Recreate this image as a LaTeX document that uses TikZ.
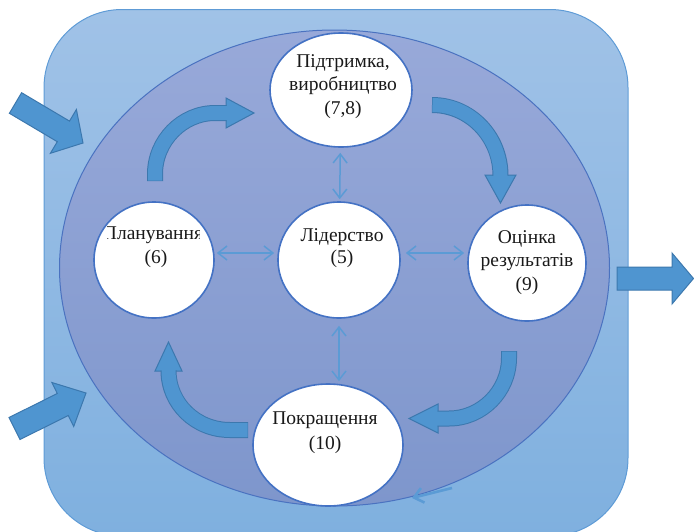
\documentclass[tikz,border=0pt]{standalone}
\usepackage{fontspec}
\setmainfont{Liberation Serif}
\usetikzlibrary{shapes.geometric,arrows.meta,calc}
\definecolor{bgtop}{HTML}{A0C2E7}
\definecolor{bgbot}{HTML}{7FB0DF}
\definecolor{bgborder}{HTML}{5E9BD6}
\definecolor{elltop}{HTML}{98A9D9}
\definecolor{ellbot}{HTML}{7E96CC}
\definecolor{ellborder}{HTML}{4A72C0}
\definecolor{nodeborder}{HTML}{4472C4}
\definecolor{blockfill}{HTML}{4F95D0}
\definecolor{blockborder}{HTML}{3C78AE}
\definecolor{thinarrow}{HTML}{5B9BD5}
\tikzset{
  lbl/.style={font=\fontsize{19.5}{23}\selectfont, text=black!90, inner sep=0pt,
    text height=0.7em, text depth=0.2em, anchor=center},
  wnode/.style={ellipse, draw=nodeborder, line width=1.6pt, fill=white, inner sep=0pt},
  dblarrow/.style={draw=thinarrow, line width=1.5pt,
    {Straight Barb[length=9pt,width=14pt]}-{Straight Barb[length=9pt,width=14pt]}},
  smallarrow/.style={draw=thinarrow, line width=2.6pt, -{Straight Barb[length=9pt,width=15pt]}},
  blockhead/.style={fill=blockfill, draw=blockborder, line width=1pt, line join=miter},
  shaftout/.style={draw=blockborder, line width=16pt},
  shaftin/.style={draw=blockfill, line width=14pt},
}
\begin{document}
\begin{tikzpicture}[x=1pt,y=1pt]
\useasboundingbox (0,0) rectangle (694,-531);
% background rounded rectangle
\shadedraw[top color=bgtop, bottom color=bgbot, draw=bgborder, line width=1pt,
  rounded corners=78pt] (44,-9.5) rectangle (628,-536);
% big ellipse
\shadedraw[top color=elltop, bottom color=ellbot, draw=ellborder, line width=1pt]
  (334.5,-268) ellipse [x radius=275, y radius=238];

% straight block arrows
\draw[blockhead] (21.6,-92.7) -- (69.5,-121.1) -- (76.4,-109.5) -- (83,-143)
  -- (50.4,-153.3) -- (57.3,-141.7) -- (9.4,-113.3) -- cycle;
\draw[blockhead] (9,-417.5) -- (57.3,-393.5) -- (51.9,-382.5) -- (86,-393)
  -- (73.7,-426.5) -- (68.3,-415.5) -- (20,-439.5) -- cycle;
\draw[blockhead] (617,-267) -- (672,-267) -- (672,-253) -- (693.5,-278.5)
  -- (672,-304) -- (672,-290) -- (617,-290) -- cycle;

% white nodes
\node[wnode, minimum width=142pt, minimum height=114pt] (top) at (341,-90) {};
\node[wnode, minimum width=120pt, minimum height=116pt] (left) at (154,-260) {};
\node[wnode, minimum width=122pt, minimum height=116pt] (center) at (339,-260) {};
\node[wnode, minimum width=118pt, minimum height=116pt] (right) at (527,-263) {};
\node[wnode, minimum width=150pt, minimum height=122pt] (bottom) at (328,-445) {};

% curved block arrows
\draw[blockhead] (226,-98) -- (254,-113) -- (226,-128) -- cycle;
\draw[shaftout] (155,-181) -- (155,-174) .. controls (155,-141) and (182,-113) .. (215,-113) -- (226.5,-113);
\draw[shaftin] (155,-180.5) -- (155,-174) .. controls (155,-141) and (182,-113) .. (215,-113) -- (227,-113);

\draw[blockhead] (485,-175) -- (500.5,-203) -- (516,-175) -- cycle;
\draw[shaftout] (432,-105) .. controls (469.8,-105) and (500.5,-136.4) .. (500.5,-175.5);
\draw[shaftin] (432.5,-105) .. controls (469.8,-105) and (500.5,-136.4) .. (500.5,-176);

\draw[blockhead] (438,-404) -- (409,-418.5) -- (438,-433) -- cycle;
\draw[shaftout] (509,-351) -- (509,-358) .. controls (509,-391) and (482,-418.5) .. (449,-418.5) -- (437.5,-418.5);
\draw[shaftin] (509,-351.5) -- (509,-358) .. controls (509,-391) and (482,-418.5) .. (449,-418.5) -- (437,-418.5);

\draw[blockhead] (155,-371) -- (168.5,-342) -- (182,-371) -- cycle;
\draw[shaftout] (248,-430) -- (230,-430) .. controls (196,-430) and (168.5,-404) .. (168.5,-370.5);
\draw[shaftin] (247.5,-430) -- (230,-430) .. controls (196,-430) and (168.5,-404) .. (168.5,-370);

% thin double arrows
\draw[dblarrow, shorten <=5pt, shorten >=2pt] (top) -- (center);
\draw[dblarrow, shorten <=7pt, shorten >=2pt] (center.south) -- (center.south |- bottom.north);
\draw[dblarrow, shorten <=2pt, shorten >=3pt] ([yshift=7pt]left.east) -- ([yshift=7pt]left.east -| center.west);
\draw[dblarrow, shorten <=5pt, shorten >=3pt] ([yshift=7pt]center.east) -- ([yshift=7pt]center.east -| right.west);

% small arrow at bottom
\coordinate (s1) at (452,-488);
\coordinate (s2) at (412,-498);
\draw[smallarrow] (s1) -- (s2);

% texts
\node[lbl] (t1) at (343,-65) {Підтримка,};
\node[lbl] (t2) at (343,-88) {виробництво};
\node[lbl] (t3) at (343,-112) {(7,8)};
\begin{scope}
  \clip (107.5,-200) rectangle (199.5,-300);
  \node[lbl] (l1) at (153,-237) {Планування};
\end{scope}
\node[lbl] (l2) at (156,-261) {(6)};
\node[lbl] (c1) at (342,-239) {Лідерство};
\node[lbl] (c2) at (342,-261) {(5)};
\node[lbl] (r1) at (527,-241) {Оцінка};
\begin{scope}
  \clip (470,-250) rectangle (574,-280);
  \node[lbl] (r2) at (527,-264) {результатів};
\end{scope}
\node[lbl] (r3) at (527,-288) {(9)};
\node[lbl] (b1) at (325,-422) {Покращення};
\node[lbl] (b2) at (325,-447) {(10)};
\end{tikzpicture}
\end{document}
